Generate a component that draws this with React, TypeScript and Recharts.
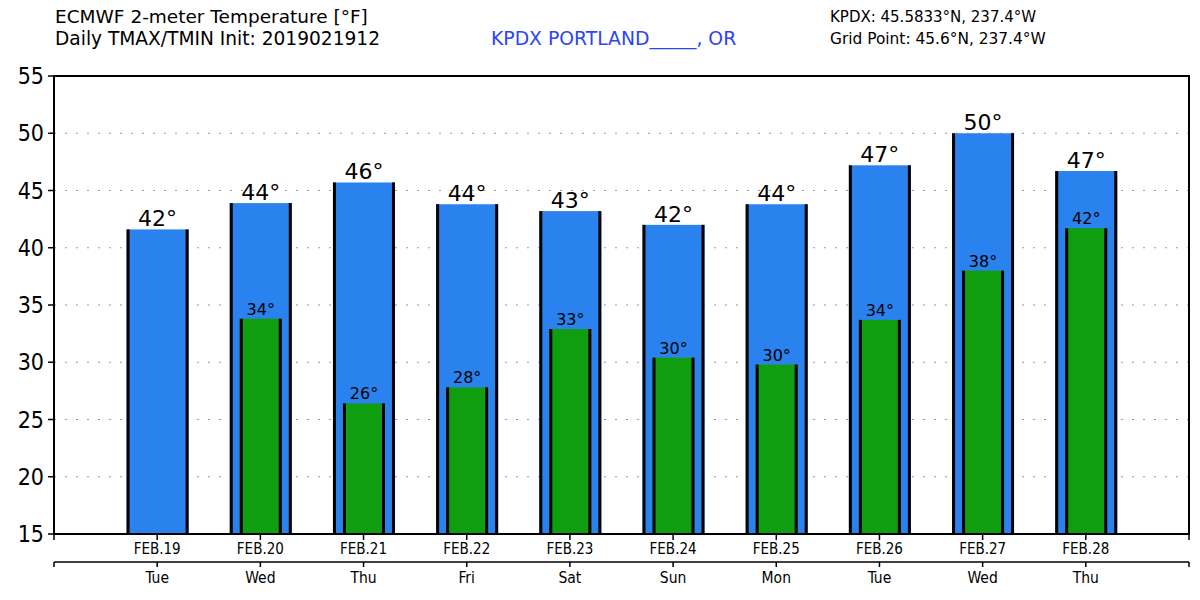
import { BarChart, Bar, XAxis, YAxis, CartesianGrid, LabelList, ReferenceArea } from 'recharts';

const dates = ['FEB.19', 'FEB.20', 'FEB.21', 'FEB.22', 'FEB.23', 'FEB.24', 'FEB.25', 'FEB.26', 'FEB.27', 'FEB.28'];
const weekdays = ['Tue', 'Wed', 'Thu', 'Fri', 'Sat', 'Sun', 'Mon', 'Tue', 'Wed', 'Thu'];
const tmax = [41.6, 43.9, 45.7, 43.8, 43.2, 42.0, 43.8, 47.2, 50.0, 46.7];
const tmin = [null, 33.8, 26.4, 27.8, 32.9, 30.4, 29.8, 33.7, 38.0, 41.7];
const yTicks = [15, 20, 25, 30, 35, 40, 45, 50, 55];
const xTicks = [-1, 0, 1, 2, 3, 4, 5, 6, 7, 8, 9, 10];

const chartData = dates.map((d, i) => ({ i, date: d, day: weekdays[i], tmax: tmax[i], tmin: tmin[i] }));

const BLUE = '#2a82ee';
const GREEN = '#0f9e0f';
const condensed = '"DejaVu Sans Condensed", "DejaVu Sans", sans-serif';
const regular = '"DejaVu Sans", sans-serif';

// bar with black edges on left and right only
function EdgedBar(props: any) {
  const { x, y, width, height, fill } = props;
  if (height == null || !(height > 0) || isNaN(y)) return <g />;
  return (
    <g>
      <rect x={x} y={y} width={width} height={height} fill={fill} />
      <rect x={x} y={y} width={3} height={height} fill="#000" />
      <rect x={x + width - 3} y={y} width={3} height={height} fill="#000" />
    </g>
  );
}

const deg = (v: any) => (v == null ? '' : `${Math.round(v)}°`);

export default function App() {
  return (
    <div style={{ position: 'absolute', left: 0, top: 0, width: 1200, height: 600, background: '#fff', fontFamily: regular }}>
      <div style={{ position: 'absolute', left: 55, top: 7, fontSize: 18.5, lineHeight: '20px', color: '#000' }}>
        ECMWF 2-meter Temperature [°F]
      </div>
      <div style={{ position: 'absolute', left: 55, top: 29, fontSize: 18.6, lineHeight: '20px', color: '#000' }}>
        Daily TMAX/TMIN Init: 2019021912
      </div>
      <div style={{ position: 'absolute', left: 491, top: 29, fontSize: 18.8, lineHeight: '20px', color: '#2b44f6' }}>
        KPDX PORTLAND_____, OR
      </div>
      <div style={{ position: 'absolute', left: 830, top: 8, fontSize: 15, lineHeight: '18px', color: '#000' }}>
        KPDX: 45.5833°N, 237.4°W
      </div>
      <div style={{ position: 'absolute', left: 830, top: 30, fontSize: 15.4, lineHeight: '18px', color: '#000' }}>
        Grid Point: 45.6°N, 237.4°W
      </div>
      <div style={{ position: 'absolute', left: 0, top: 0 }}>
        <BarChart width={1200} height={600} data={chartData} margin={{ top: 76, right: 11, left: 0, bottom: 1 }}>
          <CartesianGrid
            horizontal
            vertical={false}
            stroke="#9a9a9a"
            strokeDasharray="2 9"
            horizontalValues={[20, 25, 30, 35, 40, 45, 50]}
            xAxisId="dates"
          />
          <XAxis
            xAxisId="dates"
            dataKey="i"
            type="number"
            domain={[-1, 10]}
            allowDataOverflow
            ticks={xTicks}
            interval={0}
            tickFormatter={(v: number) => dates[v] ?? ''}
            height={28}
            tickSize={6}
            tickMargin={3}
            axisLine={{ stroke: '#000', strokeWidth: 2 }}
            tickLine={{ stroke: '#000', strokeWidth: 1.5 }}
            tick={{ fill: '#000', fontSize: 15, fontFamily: condensed }}
          />
          <XAxis
            xAxisId="days"
            dataKey="i"
            type="number"
            domain={[-1, 10]}
            allowDataOverflow
            ticks={xTicks}
            interval={0}
            tickFormatter={(v: number) => weekdays[v] ?? ''}
            height={37}
            tickSize={5}
            tickMargin={5}
            axisLine={{ stroke: '#000', strokeWidth: 1.5 }}
            tickLine={{ stroke: '#000', strokeWidth: 1.5 }}
            tick={{ fill: '#000', fontSize: 15.5, fontFamily: condensed }}
          />
          <XAxis xAxisId="inner" dataKey="i" type="number" domain={[-1, 10]} allowDataOverflow hide />
          <YAxis
            domain={[15, 55]}
            ticks={yTicks}
            interval={0}
            allowDataOverflow
            width={54}
            tickSize={6}
            tickMargin={4}
            axisLine={{ stroke: '#000', strokeWidth: 2 }}
            tickLine={{ stroke: '#000', strokeWidth: 1.5 }}
            tick={{ fill: '#000', fontSize: 23, fontFamily: condensed }}
          />
          <Bar xAxisId="dates" dataKey="tmax" fill={BLUE} barSize={62} shape={<EdgedBar />} isAnimationActive={false}>
            <LabelList dataKey="tmax" position="top" offset={3} formatter={deg} fill="#000" fontSize={22} fontFamily={regular} />
          </Bar>
          <Bar xAxisId="inner" dataKey="tmin" fill={GREEN} barSize={42} shape={<EdgedBar />} isAnimationActive={false}>
            <LabelList dataKey="tmin" position="top" offset={4} formatter={deg} fill="#000" fontSize={16} fontFamily={regular} />
          </Bar>
          <ReferenceArea xAxisId="dates" x1={-1} x2={10} y1={15} y2={55} fill="none" stroke="#000" strokeWidth={2} />
        </BarChart>
      </div>
    </div>
  );
}
